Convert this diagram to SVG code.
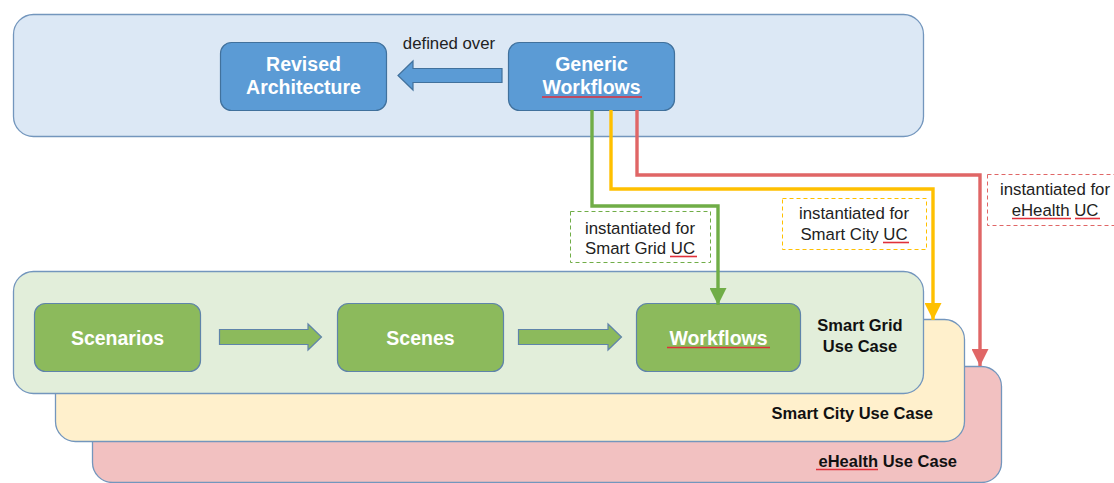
<svg xmlns="http://www.w3.org/2000/svg" width="1114" height="483" viewBox="0 0 1114 483">
  <defs>
    <style>
      text { font-family: "Liberation Sans", Arial, sans-serif; }
      .box-title { font-size: 19.5px; font-weight: bold; fill: #ffffff; text-anchor: middle; }
      .uc-title { font-size: 16.5px; font-weight: bold; fill: #111111; }
      .label { font-size: 16.8px; fill: #222222; text-anchor: middle; }
      .blue-box { fill: #5b9bd5; stroke: #41719c; stroke-width: 1.2; }
      .green-box { fill: #8cba5c; stroke: #5f84aa; stroke-width: 1.2; }
      .frame { stroke: #7396bd; stroke-width: 1.3; }
      .squiggle { stroke: #e0303a; stroke-width: 1.6; fill: none; }
      .wire { fill: none; stroke-width: 3.4; }
      .tag { fill: #ffffff; stroke-width: 1; stroke-dasharray: 4 3; }
    </style>
    <marker id="head-green" viewBox="0 0 10 10" refX="10" refY="5" markerWidth="5" markerHeight="5" markerUnits="strokeWidth" orient="auto">
      <path d="M0,0 L10,5 L0,10 Z" fill="#70ad47"/>
    </marker>
    <marker id="head-yellow" viewBox="0 0 10 10" refX="10" refY="5" markerWidth="5" markerHeight="5" markerUnits="strokeWidth" orient="auto">
      <path d="M0,0 L10,5 L0,10 Z" fill="#ffc000"/>
    </marker>
    <marker id="head-red" viewBox="0 0 10 10" refX="10" refY="5" markerWidth="5" markerHeight="5" markerUnits="strokeWidth" orient="auto">
      <path d="M0,0 L10,5 L0,10 Z" fill="#e06666"/>
    </marker>
  </defs>

  <rect width="1114" height="483" fill="#ffffff"/>

  <!-- generic layer -->
  <g id="generic-layer">
    <rect class="frame" x="13.5" y="14.5" width="910" height="122" rx="20" fill="#dce8f5"/>
  </g>

  <g id="revised-architecture">
    <rect class="blue-box" x="220.5" y="42.5" width="166" height="68" rx="11"/>
    <text class="box-title" x="303.5" y="71">Revised</text>
    <text class="box-title" x="303.5" y="94">Architecture</text>
  </g>

  <g id="generic-workflows">
    <rect class="blue-box" x="508.5" y="42.5" width="166" height="68" rx="11"/>
    <text class="box-title" x="591.5" y="71">Generic</text>
    <text class="box-title" x="591.5" y="94">Workflows</text>
    <line class="squiggle" x1="542" y1="97" x2="642" y2="97"/>
  </g>

  <!-- use case layers, back to front -->
  <g id="ehealth-use-case">
    <rect class="frame" x="92.5" y="366.5" width="909" height="116" rx="20" fill="#f2c1c1"/>
    <text class="uc-title" x="957" y="467" text-anchor="end">eHealth Use Case</text>
    <line class="squiggle" x1="816" y1="469.5" x2="878" y2="469.5"/>
  </g>

  <g id="smart-city-use-case">
    <rect class="frame" x="55.5" y="319.5" width="909" height="122" rx="20" fill="#fff0cc"/>
    <text class="uc-title" x="933" y="419" text-anchor="end">Smart City Use Case</text>
  </g>

  <g id="smart-grid-use-case">
    <rect class="frame" x="13.5" y="271.5" width="910" height="122" rx="20" fill="#e2eeda"/>
    <text class="uc-title" x="860" y="331" text-anchor="middle">Smart Grid</text>
    <text class="uc-title" x="860" y="352" text-anchor="middle">Use Case</text>
  </g>

  <g id="scenarios">
    <rect class="green-box" x="34.5" y="303.5" width="166" height="68" rx="11"/>
    <text class="box-title" x="117.5" y="344.5">Scenarios</text>
  </g>

  <g id="scenes">
    <rect class="green-box" x="337.5" y="303.5" width="166" height="68" rx="11"/>
    <text class="box-title" x="420.5" y="344.5">Scenes</text>
  </g>

  <g id="workflows">
    <rect class="green-box" x="636.5" y="303.5" width="164" height="68" rx="11"/>
    <text class="box-title" x="718.5" y="344.5">Workflows</text>
    <line class="squiggle" x1="667" y1="347.5" x2="770" y2="347.5"/>
  </g>

  <!-- connectors -->
  <g id="connectors">
    <!-- defined over -->
    <path d="M502,68.5 L413,68.5 L413,61 L398,75.5 L413,90 L413,82.5 L502,82.5 Z" fill="#5b9bd5" stroke="#41719c" stroke-width="1.2"/>
    <text class="label" x="449" y="49">defined over</text>

    <!-- flow inside the smart grid use case -->
    <path d="M219.5,329.5 L308,329.5 L308,324 L321.5,337 L308,350 L308,344.5 L219.5,344.5 Z" fill="#8cba5c" stroke="#5f84aa" stroke-width="1.2"/>
    <path d="M518.5,329.5 L608,329.5 L608,324 L621.5,337 L608,350 L608,344.5 L518.5,344.5 Z" fill="#8cba5c" stroke="#5f84aa" stroke-width="1.2"/>

    <!-- instantiation paths -->
    <path class="wire" stroke="#70ad47" d="M592,110 L592,206 L718,206 L718,305" marker-end="url(#head-green)"/>
    <path class="wire" stroke="#ffc000" d="M611,110 L611,189 L933,189 L933,320" marker-end="url(#head-yellow)"/>
    <path class="wire" stroke="#e06666" d="M637,110 L637,175 L980,175 L980,366" marker-end="url(#head-red)"/>

    <!-- labels -->
    <rect class="tag" stroke="#70ad47" x="570.5" y="211.5" width="140" height="51"/>
    <text class="label" x="640" y="234">instantiated for</text>
    <text class="label" x="640" y="254">Smart Grid UC</text>
    <line class="squiggle" x1="670" y1="256.5" x2="697" y2="256.5"/>

    <rect class="tag" stroke="#ffc000" x="782.5" y="198.5" width="144" height="51"/>
    <text class="label" x="854" y="219">instantiated for</text>
    <text class="label" x="854" y="240">Smart City UC</text>
    <line class="squiggle" x1="883" y1="242.5" x2="909" y2="242.5"/>

    <rect class="tag" stroke="#e06666" x="987.5" y="174.5" width="140" height="51"/>
    <text class="label" x="1055" y="195">instantiated for</text>
    <text class="label" x="1055" y="216">eHealth UC</text>
    <line class="squiggle" x1="1012" y1="218.5" x2="1071" y2="218.5"/>
    <line class="squiggle" x1="1075" y1="218.5" x2="1100" y2="218.5"/>
  </g>
</svg>
